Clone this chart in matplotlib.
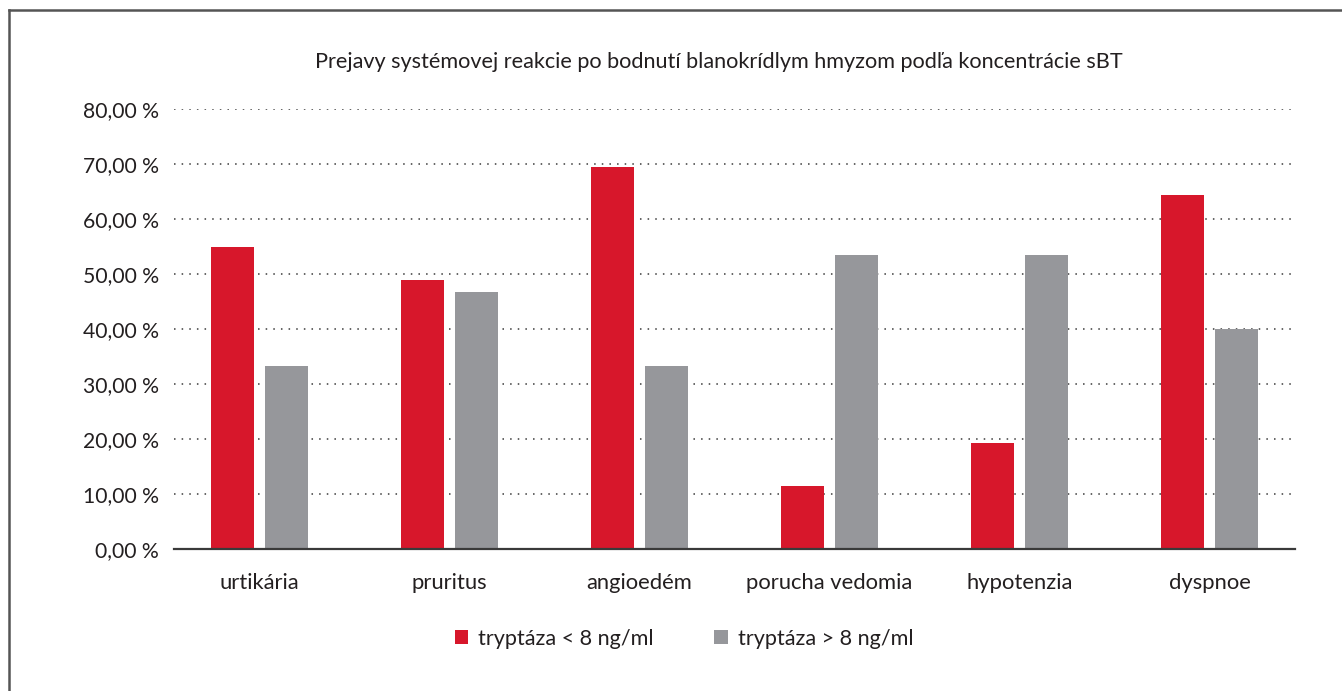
import matplotlib
matplotlib.use("Agg")
import matplotlib.pyplot as plt
import numpy as np
from matplotlib.lines import Line2D
from matplotlib.patches import Patch

categories = ["urtikária", "pruritus", "angioedém", "porucha vedomia", "hypotenzia", "dyspnoe"]
low_tryptase = [55.0, 48.9, 69.4, 11.5, 19.2, 64.3]
high_tryptase = [33.3, 46.7, 33.3, 53.5, 53.5, 40.0]
series_labels = ["tryptáza < 8 ng/ml", "tryptáza > 8 ng/ml"]
yticks = [0, 10, 20, 30, 40, 50, 60, 70, 80]
title = "Prejavy systémovej reakcie po bodnutí blanokrídlym hmyzom podľa koncentrácie sBT"

RED = "#D7172B"
GRAY = "#96979B"
TXT = "#231F20"

plt.rcParams['font.family'] = ['Lato', 'DejaVu Sans']

W, H = 1342, 691
fig = plt.figure(figsize=(W / 100, H / 100), dpi=100)
fig.patch.set_facecolor("white")

ax = fig.add_axes([174 / W, 1 - 549 / H, 1121 / W, 440 / H])
x = np.arange(len(categories))
bw = 0.227
off = 0.142
ax.bar(x - off, low_tryptase, width=bw, color=RED, zorder=3)
ax.bar(x + off, high_tryptase, width=bw, color=GRAY, zorder=3)

ax.set_xlim(-0.45, len(categories) - 0.55)
ax.set_ylim(0, 80)
ax.set_yticks(yticks)
ax.set_yticklabels([f"{v:.2f}".replace(".", ",") + " %" for v in yticks],
                   fontsize=15.2, color=TXT)
ax.set_xticks(x)
ax.set_xticklabels(categories, fontsize=15.8, color=TXT)
ax.tick_params(axis='y', length=0, pad=11)
ax.tick_params(axis='x', length=0, pad=17)
for v in yticks[1:]:
    ax.axhline(v, color="#3a3a3a", linestyle=(0, (1, 4)), linewidth=1.1, zorder=1)
for s in ["top", "right", "left"]:
    ax.spines[s].set_visible(False)
ax.spines["bottom"].set_color("#3a3a3a")
ax.spines["bottom"].set_linewidth(1.6)
ax.spines["bottom"].set_zorder(4)

fig.text(719 / W, 1 - 62 / H, title, ha="center", va="center", fontsize=15.6, color=TXT)

handles = [Patch(facecolor=RED, edgecolor="none"), Patch(facecolor=GRAY, edgecolor="none")]
fig.legend(handles, series_labels, loc="center", bbox_to_anchor=(684 / W, 1 - 639 / H),
           ncol=2, frameon=False, fontsize=15.6, handlelength=0.62, handleheight=0.62,
           handletextpad=0.45, columnspacing=2.8, labelcolor=TXT)

# outer frame (left and top edges)
fig.add_artist(Line2D([8.5 / W, 8.5 / W], [0, 1 - 10 / H], transform=fig.transFigure,
                      color="#555555", linewidth=1.8))
fig.add_artist(Line2D([8.5 / W, 1], [1 - 10 / H, 1 - 10 / H], transform=fig.transFigure,
                      color="#555555", linewidth=1.8))

fig.savefig("out.png", dpi=100)
